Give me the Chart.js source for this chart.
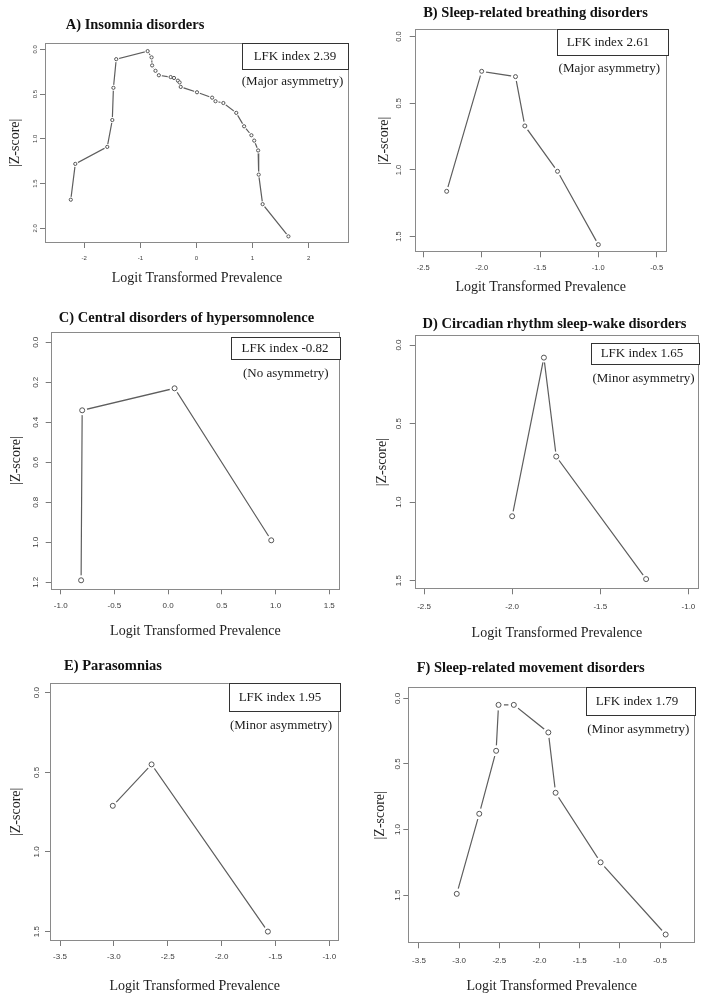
<!DOCTYPE html>
<html>
<head>
<meta charset="utf-8">
<script src="https://cdn.jsdelivr.net/npm/chart.js@4.4.1/dist/chart.umd.min.js"></script>
<style>
  body { margin: 0; background: #fff; }
  #page { position: relative; width: 708px; height: 1001px; overflow: hidden; }
  #page canvas { position: absolute; }
</style>
</head>
<body>
<div id="page"></div>
<script>
// Panel titles and LFK annotations
const panelTitles = ["A) Insomnia disorders", "B) Sleep-related breathing disorders", "C) Central disorders of hypersomnolence",
  "D) Circadian rhythm sleep-wake disorders", "E) Parasomnias", "F) Sleep-related movement disorders"];
const lfkIndex = ["2.39", "2.61", "-0.82", "1.65", "1.95", "1.79"];
const asymmetry = ["(Major asymmetry)", "(Major asymmetry)", "(No asymmetry)", "(Minor asymmetry)", "(Minor asymmetry)", "(Minor asymmetry)"];

// A) Insomnia disorders
const insomniaX = [-2.24, -2.16, -1.59, -1.50, -1.48, -1.43, -0.87, -0.80, -0.79, -0.73, -0.67, -0.46, -0.40, -0.33,
  -0.30, -0.28, 0.01, 0.28, 0.34, 0.48, 0.71, 0.85, 0.98, 1.03, 1.10, 1.11, 1.18, 1.64];
const insomniaZ = [1.68, 1.28, 1.09, 0.79, 0.43, 0.11, 0.02, 0.09, 0.18, 0.24, 0.29, 0.31, 0.32, 0.35,
  0.37, 0.42, 0.48, 0.54, 0.58, 0.60, 0.71, 0.86, 0.96, 1.02, 1.13, 1.40, 1.73, 2.09];

// B) Sleep-related breathing disorders
const breathingX = [-2.30, -2.00, -1.71, -1.63, -1.35, -1.00];
const breathingZ = [1.16, 0.26, 0.30, 0.67, 1.01, 1.56];

// C) Central disorders of hypersomnolence
const hypersomnolenceX = [-0.81, -0.80, 0.06, 0.96];
const hypersomnolenceZ = [1.19, 0.34, 0.23, 0.99];

// D) Circadian rhythm sleep-wake disorders
const circadianX = [-2.00, -1.82, -1.75, -1.24];
const circadianZ = [1.09, 0.08, 0.71, 1.49];

// E) Parasomnias
const parasomniaX = [-3.01, -2.65, -1.57];
const parasomniaZ = [0.71, 0.45, 1.50];

// F) Sleep-related movement disorders
const movementX = [-3.03, -2.75, -2.54, -2.51, -2.32, -1.89, -1.80, -1.24, -0.43];
const movementZ = [1.49, 0.88, 0.40, 0.05, 0.05, 0.26, 0.72, 1.25, 1.80];

// Tick labels
const xTicksA = ["-2", "-1", "0", "1", "2"];
const yTicksA = ["0.0", "0.5", "1.0", "1.5", "2.0"];
const xTicksB = ["-2.5", "-2.0", "-1.5", "-1.0", "-0.5"];
const yTicksB = ["0.0", "0.5", "1.0", "1.5"];
const xTicksC = ["-1.0", "-0.5", "0.0", "0.5", "1.0", "1.5"];
const yTicksC = ["0.0", "0.2", "0.4", "0.6", "0.8", "1.0", "1.2"];
const xTicksD = ["-2.5", "-2.0", "-1.5", "-1.0"];
const yTicksD = ["0.0", "0.5", "1.0", "1.5"];
const xTicksE = ["-3.5", "-3.0", "-2.5", "-2.0", "-1.5", "-1.0"];
const yTicksE = ["0.0", "0.5", "1.0", "1.5"];
const xTicksF = ["-3.5", "-3.0", "-2.5", "-2.0", "-1.5", "-1.0", "-0.5"];
const yTicksF = ["0.0", "0.5", "1.0", "1.5"];

const serif = "'Liberation Serif', 'Times New Roman', serif";
const sans = "'Liberation Sans', Arial, sans-serif";

// Layout of each panel (canvas rect, plot box inside canvas, axis ranges)
const panels = [
  { xs: insomniaX, zs: insomniaZ, xt: xTicksA, yt: yTicksA,
    canvas: [0, 0, 354, 300], area: [45, 42.7, 350, 243], xr: [-2.7, 2.72], yr: [-0.074, 2.164],
    tickFont: 6, yPad: 0, xPad: 6.4, yGap: 30, xGap: 35, titleAt: [135, 25],
    box: [242, 43, 106, 26], textX: 295, asymAt: [292.5, 82], r: 1.6, halo: 3 },
  { xs: breathingX, zs: breathingZ, xt: xTicksB, yt: yTicksB,
    canvas: [354, 0, 354, 300], area: [60.7, 29.3, 312.7, 252.3], xr: [-2.574, -0.414], yr: [-0.055, 1.6175],
    tickFont: 7.5, yPad: 6, xPad: 5.9, yGap: 30.7, xGap: 35, titleAt: [181.5, 13.3],
    box: [202.7, 29.3, 110.6, 26.4], textX: 254, asymAt: [255.3, 69], r: 2, halo: 4.5 },
  { xs: hypersomnolenceX, zs: hypersomnolenceZ, xt: xTicksC, yt: yTicksC,
    canvas: [0, 300, 354, 350], area: [50.7, 31.7, 340, 289.3], xr: [-1.093, 1.6], yr: [-0.053, 1.235],
    tickFont: 8, yPad: 4, xPad: 6.9, yGap: 34, xGap: 42.4, titleAt: [186.5, 18],
    box: [231, 37.3, 109, 22], textX: 285, asymAt: [285.8, 74], r: 2.5, halo: 5 },
  { xs: circadianX, zs: circadianZ, xt: xTicksD, yt: yTicksD,
    canvas: [354, 300, 354, 350], area: [60.7, 35, 345, 289.3], xr: [-2.553, -0.94], yr: [-0.064, 1.555],
    tickFont: 8, yPad: 5.7, xPad: 7.6, yGap: 32.4, xGap: 43.7, titleAt: [200.5, 24],
    box: [236.7, 43, 108.3, 21], textX: 288, asymAt: [289.5, 78.3], r: 2.5, halo: 5 },
  { xs: parasomniaX, zs: parasomniaZ, xt: xTicksE, yt: yTicksE,
    canvas: [0, 650, 354, 351], area: [50, 32.7, 339.3, 291], xr: [-3.593, -0.907], yr: [-0.063, 1.559],
    tickFont: 8, yPad: 2.3, xPad: 5.9, yGap: 33.3, xGap: 45.7, titleAt: [113, 16.7],
    box: [228.7, 33.3, 110.6, 28.4], textX: 280, asymAt: [281, 75.7], r: 2.5, halo: 5 },
  { xs: movementX, zs: movementZ, xt: xTicksF, yt: yTicksF,
    canvas: [354, 650, 354, 351], area: [54.3, 37.3, 341, 293.3], xr: [-3.633, -0.065], yr: [-0.084, 1.867],
    tickFont: 8, yPad: 0, xPad: 7.6, yGap: 27.6, xGap: 42.7, titleAt: [176.7, 18.3],
    box: [231.7, 37.3, 109.3, 27.7], textX: 283, asymAt: [284.3, 80], r: 2.5, halo: 5.5 }
];

// Draws panel title, plot frame and LFK annotation
function makeDecor(p, i) {
  return {
    id: "decor" + i,
    afterDraw(chart) {
      const ctx = chart.ctx;
      const a = chart.chartArea;
      ctx.save();
      ctx.strokeStyle = "#8a8a8a";
      ctx.lineWidth = 1;
      ctx.strokeRect(Math.round(a.left) + 0.5, Math.round(a.top) + 0.5,
        Math.round(a.right - a.left) - 1, Math.round(a.bottom - a.top) - 1);

      ctx.fillStyle = "#111";
      ctx.textAlign = "center";
      ctx.textBaseline = "middle";
      ctx.font = "bold 14.5px " + serif;
      ctx.fillText(panelTitles[i], p.titleAt[0], p.titleAt[1]);

      const [bx, by, bw, bh] = p.box;
      ctx.fillStyle = "#fff";
      ctx.fillRect(bx, by, bw, bh);
      ctx.strokeStyle = "#333";
      ctx.strokeRect(Math.round(bx) + 0.5, Math.round(by) + 0.5, Math.round(bw), Math.round(bh));
      ctx.fillStyle = "#1a1a1a";
      ctx.font = "13px " + serif;
      ctx.fillText("LFK index " + lfkIndex[i], p.textX, by + bh / 2 + 0.5);
      ctx.fillText(asymmetry[i], p.asymAt[0], p.asymAt[1]);
      ctx.restore();
    }
  };
}

const page = document.getElementById("page");

panels.forEach((p, i) => {
  const [cl, ct, cw, chh] = p.canvas;
  const [al, at, ar, ab] = p.area;
  const yW = p.yGap + 8.4;
  const xH = p.xGap + 8.4;

  const canvas = document.createElement("canvas");
  canvas.width = cw;
  canvas.height = chh;
  canvas.style.left = cl + "px";
  canvas.style.top = ct + "px";
  page.appendChild(canvas);

  const pts = p.xs.map((x, k) => ({ x: x, y: p.zs[k] }));
  const tickFont = { family: sans, size: p.tickFont };
  const axisTitleFont = { family: serif, size: 14 };

  new Chart(canvas, {
    type: "scatter",
    data: {
      datasets: [
        { data: pts, pointRadius: p.r, pointBackgroundColor: "#fff", pointBorderColor: "#555", pointBorderWidth: 1, order: 1 },
        { data: pts, pointRadius: p.halo, pointBackgroundColor: "#fff", pointBorderColor: "#fff", pointBorderWidth: 0, order: 2 },
        { data: pts, showLine: true, borderColor: "#5e5e5e", borderWidth: 1.2, pointRadius: 0, order: 3 }
      ]
    },
    options: {
      responsive: false,
      animation: false,
      devicePixelRatio: 1,
      layout: { padding: { left: al - yW, top: at, right: cw - ar, bottom: chh - ab - xH } },
      plugins: { legend: { display: false }, tooltip: { enabled: false } },
      scales: {
        x: {
          type: "linear", min: p.xr[0], max: p.xr[1],
          afterBuildTicks: s => { s.ticks = p.xt.map(t => ({ value: parseFloat(t) })); },
          afterFit: s => { s.height = xH; },
          ticks: { callback: (v, k) => p.xt[k], font: tickFont, color: "#3c3c3c", padding: p.xPad, maxRotation: 0, autoSkip: false },
          grid: { drawOnChartArea: false, drawTicks: true, tickLength: 5, tickColor: "#7a7a7a" },
          border: { display: false },
          title: { display: true, text: "Logit Transformed Prevalence", font: axisTitleFont, color: "#222", padding: 0 }
        },
        y: {
          type: "linear", reverse: true, min: p.yr[0], max: p.yr[1],
          afterBuildTicks: s => { s.ticks = p.yt.map(t => ({ value: parseFloat(t) })); },
          afterFit: s => { s.width = yW; },
          ticks: { callback: (v, k) => p.yt[k], font: tickFont, color: "#3c3c3c", padding: p.yPad,
            minRotation: 90, maxRotation: 90, crossAlign: "center", autoSkip: false },
          grid: { drawOnChartArea: false, drawTicks: true, tickLength: 5, tickColor: "#7a7a7a" },
          border: { display: false },
          title: { display: true, text: "|Z-score|", font: axisTitleFont, color: "#222", padding: 0 }
        }
      }
    },
    plugins: [makeDecor(p, i)]
  });
});
</script>
</body>
</html>
